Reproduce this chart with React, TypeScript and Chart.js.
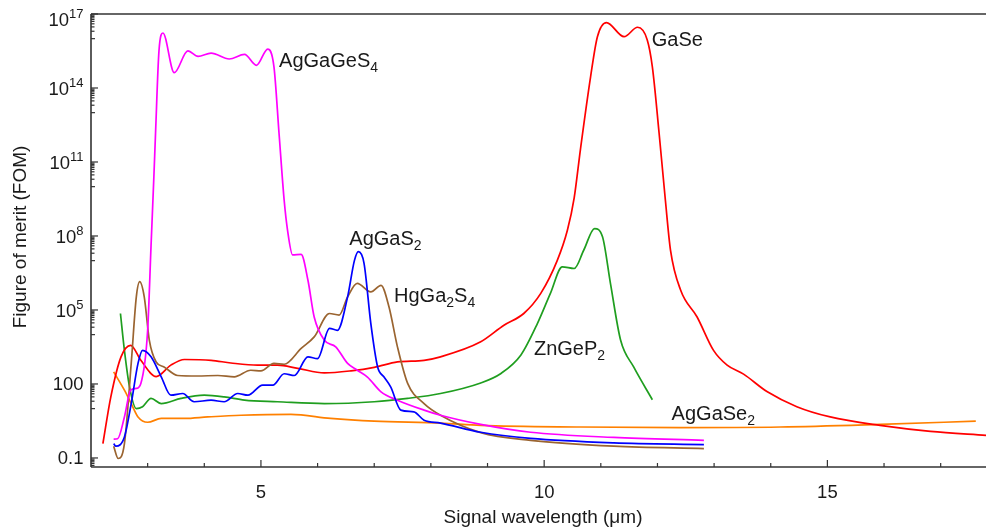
import React, { useEffect, useRef } from 'react';
import { Chart, registerables } from 'chart.js';

Chart.register(...registerables);

// ---------- data (signal wavelength in µm, figure of merit) ----------
const agGaGeS4X = [2.40, 2.47, 2.59, 2.70, 2.80, 2.88, 3.00, 3.06, 3.11, 3.14, 3.20, 3.27, 3.47, 3.71, 3.89, 4.12, 4.44, 4.71, 4.92, 5.12, 5.23, 5.32, 5.41, 5.47, 5.56, 5.71, 5.83, 5.94, 6.12, 6.32, 6.53, 6.70, 6.88, 7.12, 7.41, 7.88, 8.17, 8.88, 9.76, 11.23, 12.82];
const agGaGeS4Y = [0.58, 0.6, 4.6, 56, 66, 105, 1.5e4, 4e7, 2.5e10, 1.6e12, 3.2e15, 1.7e16, 4.2e14, 3.2e15, 1.9e15, 2.6e15, 1.5e15, 2.3e15, 8.3e14, 3.8e15, 7.2e14, 1.4e12, 2.8e9, 1.7e8, 1.7e7, 1.8e7, 1.6e6, 5.2e4, 5.9e3, 3.2e3, 680, 360, 190, 48, 22, 8.7, 5.4, 2.3, 1.1, 0.68, 0.52];

const agGaS2X = [2.40, 2.44, 2.59, 2.71, 2.83, 2.91, 3.06, 3.24, 3.41, 3.62, 3.82, 4.12, 4.35, 4.59, 4.77, 5.03, 5.21, 5.41, 5.59, 5.83, 6.00, 6.21, 6.35, 6.53, 6.65, 6.72, 6.82, 6.94, 7.06, 7.17, 7.29, 7.47, 7.70, 7.88, 8.17, 8.88, 9.76, 11.23, 12.82];
const agGaS2Y = [0.38, 0.30, 0.71, 16, 680, 2300, 1260, 195, 35, 41, 19, 22, 19, 41, 35, 89, 89, 260, 220, 1260, 1070, 1.8e4, 1.5e4, 3.4e5, 1.0e7, 2.3e7, 7.8e6, 2.8e4, 490, 195, 76, 8.7, 7.4, 3.4, 2.6, 1.1, 0.62, 0.41, 0.35];

const hgGa2S4X = [2.40, 2.48, 2.59, 2.71, 2.80, 2.86, 2.94, 3.03, 3.15, 3.29, 3.53, 3.88, 4.24, 4.53, 4.82, 5.00, 5.23, 5.41, 5.71, 5.94, 6.21, 6.38, 6.53, 6.70, 6.94, 7.12, 7.26, 7.41, 7.59, 7.88, 8.17, 8.88, 9.76, 11.23, 12.82];
const hgGa2S4Y = [0.30, 0.095, 0.38, 680, 3.4e5, 1.4e6, 3.4e5, 5900, 780, 490, 220, 210, 220, 195, 360, 340, 680, 630, 2750, 8100, 7.2e4, 6.2e4, 3.4e5, 1.2e6, 5.4e5, 1.0e6, 1.35e5, 3200, 105, 16, 5.4, 1.07, 0.52, 0.30, 0.24];

const gaSeX = [2.21, 2.35, 2.53, 2.70, 2.88, 3.15, 3.41, 3.65, 4.12, 4.47, 4.94, 5.29, 5.65, 6.12, 6.59, 7.00, 7.41, 7.88, 8.17, 8.88, 9.29, 9.64, 9.94, 10.23, 10.41, 10.53, 10.64, 10.82, 10.94, 11.10, 11.41, 11.65, 11.82, 11.91, 12.03, 12.14, 12.23, 12.41, 12.70, 12.99, 13.23, 13.52, 13.94, 14.46, 15.05, 15.93, 16.82, 17.80];
const gaSeY = [0.38, 30, 1260, 3700, 910, 200, 580, 980, 910, 710, 580, 580, 430, 280, 340, 470, 780, 910, 1260, 5100, 2.4e4, 7.2e4, 4.7e5, 1.0e7, 1.7e8, 3.5e9, 3.2e11, 2.9e14, 1.2e16, 4.5e16, 1.2e16, 2.9e16, 8.9e15, 7.2e14, 1.4e12, 2.8e9, 2.7e7, 6.3e5, 5.2e4, 2300, 580, 250, 48, 12, 4.6, 2.1, 1.2, 0.83];

const znGeP2X = [2.52, 2.59, 2.68, 2.80, 2.91, 3.06, 3.24, 3.59, 4.00, 4.35, 4.71, 5.29, 6.12, 7.00, 7.59, 8.17, 8.88, 9.23, 9.59, 9.88, 10.11, 10.32, 10.53, 10.70, 10.89, 11.03, 11.17, 11.35, 11.58, 11.91];
const znGeP2Y = [7.2e4, 2300, 76, 10, 12, 26, 16, 26, 35, 30, 22, 19, 16, 19, 26, 41, 110, 260, 1500, 2.8e4, 4.7e5, 5.6e6, 4.8e6, 2.7e7, 2.0e8, 9.3e7, 1.2e6, 5900, 490, 23];

const agGaSe2X = [2.40, 2.59, 2.71, 2.83, 3.00, 3.24, 3.65, 4.06, 4.65, 5.53, 6.23, 7.00, 8.17, 8.88, 10.64, 12.41, 14.17, 15.93, 17.62];
const agGaSe2Y = [310, 56, 16, 4.6, 2.8, 4.0, 4.0, 4.6, 5.4, 5.9, 4.0, 3.1, 2.6, 2.1, 1.8, 1.7, 1.8, 2.3, 3.1];

// ---------- axes ----------
const xMin = 2.0;
const xMax = 17.8;
const yMin = 0.043;
const yMax = 1e17;
const xMajorTicks = [5, 10, 15];
const xMinorTicks = [3, 4, 6, 7, 8, 9, 11, 12, 13, 14, 16, 17];
const yMajorExponents = [17, 14, 11, 8, 5, 2, -1];
const xTitle = 'Signal wavelength (\u03BCm)';
const yTitle = 'Figure of merit (FOM)';

// ---------- curve labels (digits drawn as subscripts) ----------
const labelText = ['AgGaGeS4', 'GaSe', 'AgGaS2', 'HgGa2S4', 'ZnGeP2', 'AgGaSe2'];
const labelX = [5.32, 11.90, 6.56, 7.35, 9.82, 12.25];
const labelY = [7.2e14, 5.1e15, 4.3e7, 2.1e5, 1500, 3.4];

const FONT = '"Liberation Sans", Arial, Helvetica, sans-serif';
const INK = '#1a1a1a';
const AXIS = '#333333';

const toPts = (xs: number[], ys: number[]) => xs.map((x, i) => ({ x, y: ys[i] }));

const decorPlugin = {
  id: 'decor',
  afterDraw(chart: any) {
    const { ctx, chartArea: a, scales } = chart;
    const xs = scales.x;
    const ys = scales.y;
    ctx.save();

    const line = (x1: number, y1: number, x2: number, y2: number) => {
      ctx.beginPath();
      ctx.moveTo(x1, y1);
      ctx.lineTo(x2, y2);
      ctx.stroke();
    };

    // frame
    ctx.strokeStyle = AXIS;
    ctx.lineWidth = 1.6;
    line(a.left, a.top, a.right, a.top);
    line(a.left, a.top, a.left, a.bottom);
    line(a.left, a.bottom, a.right, a.bottom);

    // x ticks (inward)
    ctx.lineWidth = 1.2;
    for (const v of xMinorTicks) {
      const px = xs.getPixelForValue(v);
      line(px, a.bottom, px, a.bottom - 4);
    }
    for (const v of xMajorTicks) {
      const px = xs.getPixelForValue(v);
      line(px, a.bottom, px, a.bottom - 7);
    }

    // y ticks (inward)
    for (const e of yMajorExponents) {
      const py = ys.getPixelForValue(Math.pow(10, e));
      if (py >= a.top - 0.5 && py <= a.bottom + 0.5) line(a.left, py, a.left + 7, py);
      for (let m = 1; m <= 9; m++) {
        const v = m * Math.pow(10, e - 1);
        if (v < yMin || v > yMax) continue;
        const p = ys.getPixelForValue(v);
        line(a.left, p, a.left + (m === 1 ? 4 : 3.5), p);
      }
    }

    ctx.fillStyle = INK;
    // x tick labels
    ctx.font = `18.5px ${FONT}`;
    ctx.textAlign = 'center';
    ctx.textBaseline = 'middle';
    for (const v of xMajorTicks) {
      ctx.fillText(String(v), xs.getPixelForValue(v), a.bottom + 26);
    }

    // y tick labels
    const right = a.left - 7.5;
    for (const e of yMajorExponents) {
      const py = ys.getPixelForValue(Math.pow(10, e));
      ctx.textBaseline = 'middle';
      if (e === -1 || e === 2) {
        ctx.font = `18.5px ${FONT}`;
        ctx.textAlign = 'right';
        ctx.fillText(e === -1 ? '0.1' : '100', right, py + 0.5);
      } else {
        const sup = String(e);
        const shift = Math.max(0, 10 - (py - 9));
        ctx.font = `13px ${FONT}`;
        const supW = ctx.measureText(sup).width;
        const baseRight = right - supW;
        ctx.textAlign = 'left';
        ctx.fillText(sup, baseRight, py - 4.5 + shift);
        ctx.font = `18.5px ${FONT}`;
        ctx.textAlign = 'right';
        ctx.fillText('10', baseRight, py + 2 + shift);
      }
    }

    // axis titles
    ctx.font = `19px ${FONT}`;
    ctx.textAlign = 'center';
    ctx.textBaseline = 'middle';
    ctx.fillText(xTitle, 543, a.bottom + 51);
    ctx.save();
    ctx.translate(21, 237);
    ctx.rotate(-Math.PI / 2);
    ctx.fillText(yTitle, 0, 0);
    ctx.restore();

    // curve labels with subscripts
    ctx.textAlign = 'left';
    ctx.textBaseline = 'alphabetic';
    labelText.forEach((txt, i) => {
      let x = xs.getPixelForValue(labelX[i]);
      const y = ys.getPixelForValue(labelY[i]);
      for (const ch of txt) {
        const isSub = ch >= '0' && ch <= '9';
        ctx.font = isSub ? `14px ${FONT}` : `20px ${FONT}`;
        ctx.fillText(ch, x, isSub ? y + 5 : y);
        x += ctx.measureText(ch).width;
      }
    });

    ctx.restore();
  },
};

export default function App() {
  const ref = useRef<HTMLCanvasElement>(null);

  useEffect(() => {
    document.body.style.margin = '0';
    const ds = (label: string, xs: number[], ys: number[], color: string) => ({
      label,
      data: toPts(xs, ys),
      borderColor: color,
      backgroundColor: color,
      borderWidth: 1.7,
      pointRadius: 0,
      fill: false,
      cubicInterpolationMode: 'monotone' as const,
    });
    const chart = new Chart(ref.current!, {
      type: 'line',
      data: {
        datasets: [
          ds('AgGaS2', agGaS2X, agGaS2Y, '#0000ff'),
          ds('AgGaGeS4', agGaGeS4X, agGaGeS4Y, '#ff00ff'),
          ds('HgGa2S4', hgGa2S4X, hgGa2S4Y, '#9a6430'),
          ds('GaSe', gaSeX, gaSeY, '#ff0000'),
          ds('ZnGeP2', znGeP2X, znGeP2Y, '#1f9e1f'),
          ds('AgGaSe2', agGaSe2X, agGaSe2Y, '#ff8000'),
        ],
      },
      options: {
        animation: false,
        responsive: true,
        maintainAspectRatio: false,
        devicePixelRatio: 1,
        layout: { padding: { left: 91, top: 14, right: 0, bottom: 64 } },
        plugins: { legend: { display: false }, tooltip: { enabled: false } },
        scales: {
          x: {
            type: 'linear',
            min: xMin,
            max: xMax,
            ticks: { display: false },
            grid: { display: false, drawTicks: false },
            border: { display: false },
          },
          y: {
            type: 'logarithmic',
            min: yMin,
            max: yMax,
            ticks: { display: false },
            grid: { display: false, drawTicks: false },
            border: { display: false },
          },
        },
      },
      plugins: [decorPlugin],
    });
    return () => chart.destroy();
  }, []);

  return (
    <div style={{ width: 986, height: 531, position: 'relative' }}>
      <canvas ref={ref} />
    </div>
  );
}
